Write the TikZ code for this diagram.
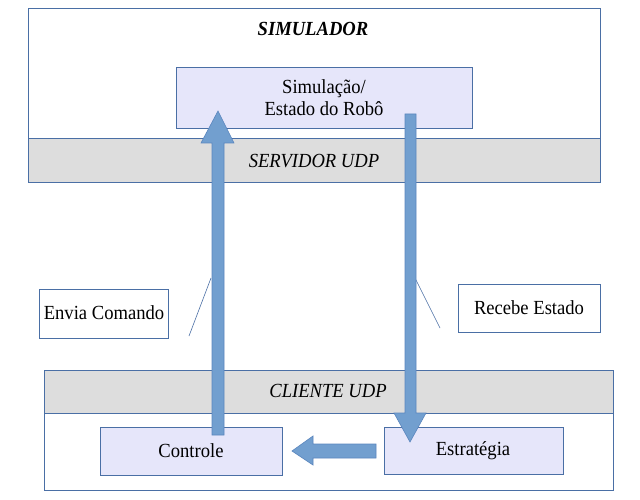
\documentclass[tikz,border=0pt]{standalone}
\usepackage{fontspec}
\setmainfont{Liberation Serif}[FakeStretch=0.93]
\definecolor{boxline}{HTML}{4A6FA5}
\definecolor{boxfill}{HTML}{E6E6FA}
\definecolor{bandfill}{HTML}{DDDDDD}
\definecolor{arrfill}{HTML}{729FCF}
\definecolor{arrline}{HTML}{5B86BE}
\begin{document}
\begin{tikzpicture}[x=1pt,y=-1pt,
  every node/.style={font=\fontsize{20}{22}\selectfont, inner sep=0pt},
  outerbox/.style={draw=boxline, line width=0.8pt, fill=white},
  bandbox/.style={draw=boxline, line width=0.8pt, fill=bandfill},
  innerbox/.style={draw=boxline, line width=0.8pt, fill=boxfill},
  labelbox/.style={draw=boxline, line width=0.8pt, fill=white},
  blockarrow/.style={fill=arrfill, draw=arrline, line width=0.6pt},
  thinline/.style={draw=boxline, line width=0.6pt}]
\useasboundingbox (0,0) rectangle (640,500);
\fill[white] (0,0) rectangle (640,500);
% simulator
\draw[outerbox] (28,8) rectangle (600,182);
\draw[bandbox] (28,138) rectangle (600,182);
\node (simtitle) at (313,29) {\bfseries\itshape SIMULADOR};
\node (servidor) at (314,161) {\itshape SERVIDOR UDP};
\draw[innerbox] (176,67) rectangle (472,128);
\node[align=center] (sim) at (324,97.5) {Simulação/\\Estado do Robô};
% client
\draw[outerbox] (44,370) rectangle (613,490);
\draw[bandbox] (44,370) rectangle (613,413);
\node (cliente) at (328,391) {\itshape CLIENTE UDP};
\draw[innerbox] (100,427) rectangle (282,475);
\node (controle) at (191,451) {Controle};
\draw[innerbox] (384,427) rectangle (563,474);
\node (estrategia) at (473,451) {Estratégia};
% labels
\draw[labelbox] (39,289) rectangle (168,338);
\node (envia) at (104,313) {Envia Comando};
\draw[labelbox] (458,284) rectangle (600,332);
\node (recebe) at (529,308) {Recebe Estado};
% callout lines
\coordinate (e1) at (211,278);
\coordinate (e2) at (189,336);
\coordinate (r1) at (415,278);
\coordinate (r2) at (440,328);
\draw[thinline] (e1) -- (e2);
\draw[thinline] (r1) -- (r2);
% block arrows
\draw[blockarrow] (212,435) -- (212,143) -- (201,143) -- (218,111) -- (234,143) -- (224,143) -- (224,435) -- cycle;
\draw[blockarrow] (405,114) -- (405,413) -- (394,413) -- (410,442) -- (426,413) -- (416,413) -- (416,114) -- cycle;
\draw[blockarrow] (376,444) -- (313,444) -- (313,436) -- (292,451) -- (313,465) -- (313,458) -- (376,458) -- cycle;
\end{tikzpicture}
\end{document}
